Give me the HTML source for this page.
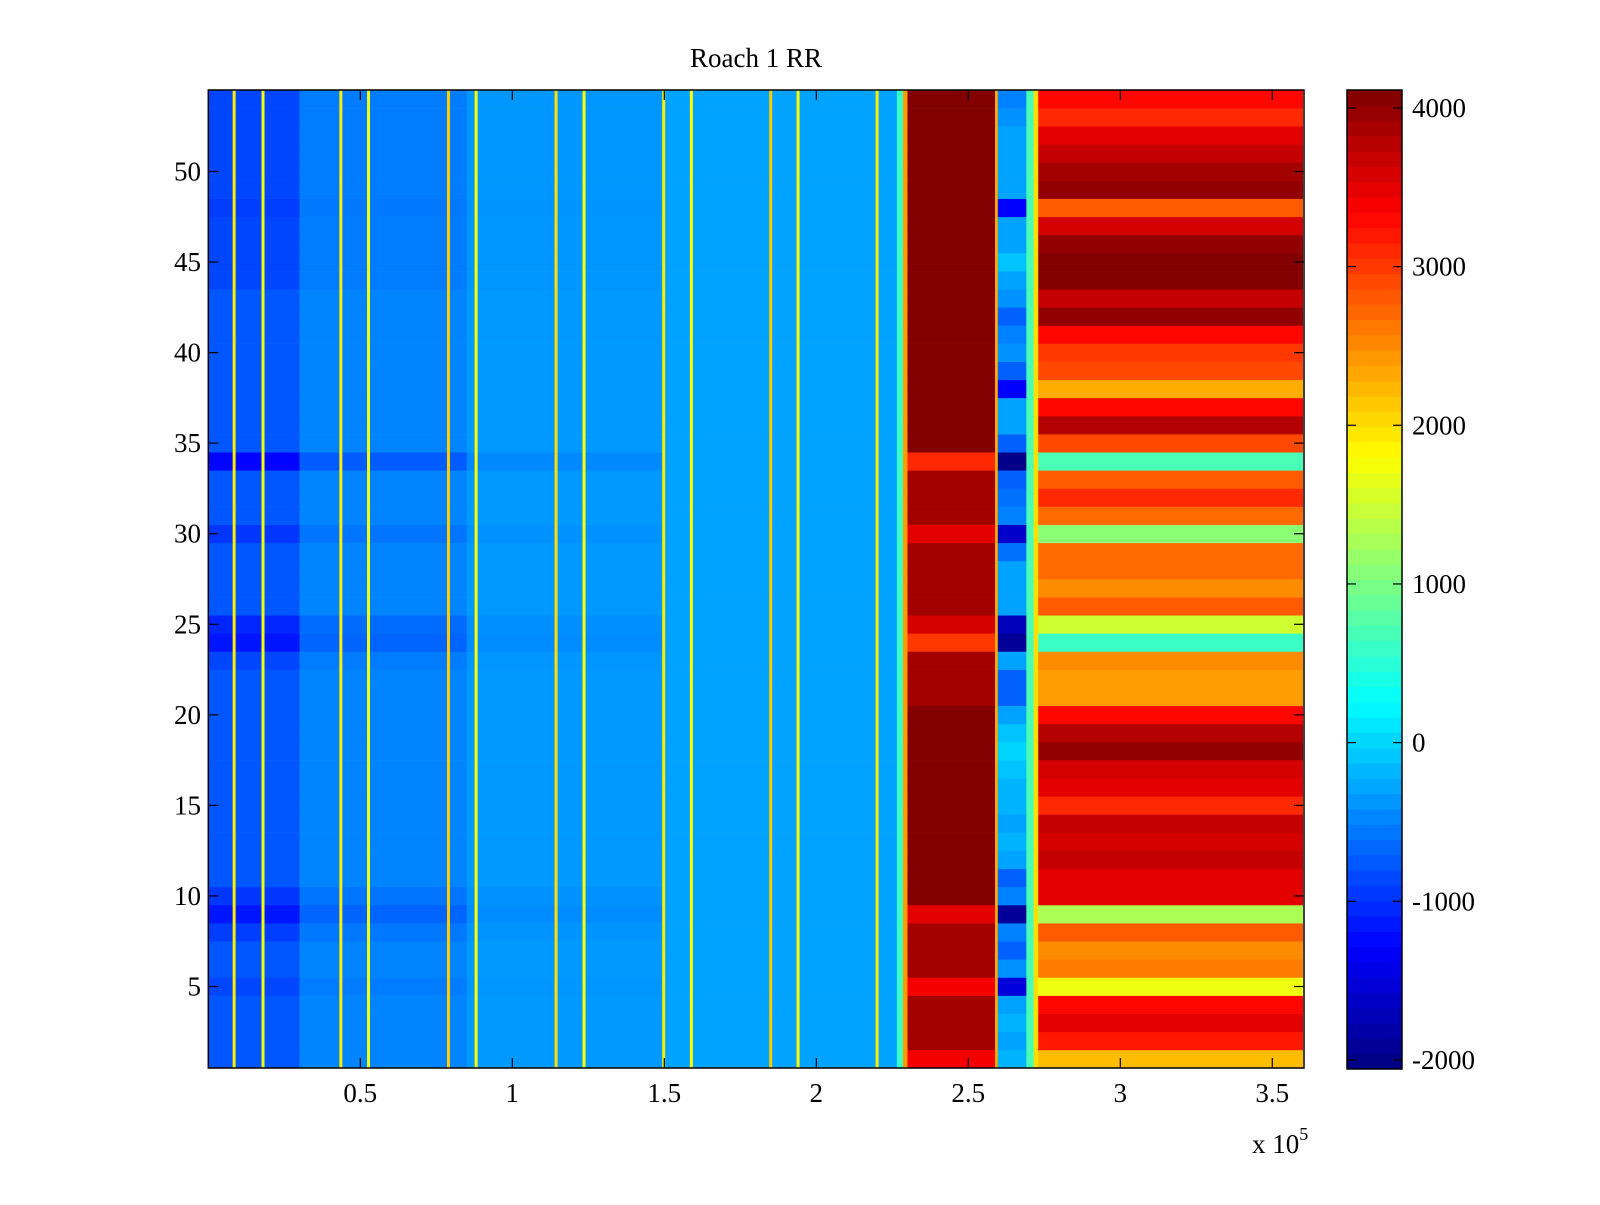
<!DOCTYPE html>
<html><head><meta charset="utf-8"><style>
html,body{margin:0;padding:0;background:#fff;}
svg text{font-family:"Liberation Serif",serif;fill:#000;}
</style></head><body>
<svg id="fig" width="1600" height="1200" viewBox="0 0 1600 1200" xmlns="http://www.w3.org/2000/svg">
<rect x="0" y="0" width="1600" height="1200" fill="#fff"/>
<text x="756" y="67" font-size="27" text-anchor="middle">Roach 1 RR</text>
<g id="cells"></g>
<rect x="208.3" y="90" width="1095.7" height="978" fill="none" stroke="#000" stroke-width="1.5"/>
<g id="axes"></g>
<g id="cbar"></g>
<text x="1252" y="1153" font-size="27">x 10<tspan font-size="18" dy="-13">5</tspan></text>
</svg>
<script>
// ---- data (x in units of 1e5) ----
const rowsCount = 54;
const leftEdges = [0, 0.3, 0.85, 1.5, 2.265];
const leftBase = [-760, -480, -360, -300];
const leftWeight = [1, 0.5, 0.2, 0];
// per-row offsets for left region, row 1..54
const leftRowOffset = [0,0,0,0,-100,0,0,-150,-400,-200, 0,0,0,0,0,0,0,0,0,0, 0,0,-100,-400,-300,0,0,0,0,-200, 0,0,0,-500,0,0,0,0,0,0, 0,0,0,-100,-100,-100,-100,-150,-100,-100, -100,-100,-100,-100];
const edgeCols = [[2.265, 2.285, 600],[2.285, 2.30, 2400],[2.587, 2.597, 2300],[2.69, 2.715, 700],[2.715, 2.73, 2000]];
const darkBandRange = [2.30, 2.587];
const darkBand = [3400,3900,3900,3900,3400,3900,3900,3900,3500,4100, 4100,4100,4100,4100,4100,4100,4100,4100,4100,4100, 3900,3900,3900,3000,3600,3900,3900,3900,3900,3500, 3900,3900,3900,3100,4100,4100,4100,4100,4100,4100, 4100,4100,4100,4100,4100,4100,4100,4100,4100,4100, 4100,4100,4100,4100];
const midBandRange = [2.597, 2.69];
const midBand = [-200,-300,-200,-300,-1500,-400,-700,-500,-1900,-500, -700,-300,-200,-300,-200,-200,-100,0,-100,-300, -700,-700,-300,-1900,-1700,-300,-300,-300,-600,-1600, -500,-600,-700,-2000,-700,-300,-300,-1300,-700,-400, -500,-700,-400,-300,-100,-300,-300,-1300,-300,-300, -300,-300,-400,-500];
const rightRange = [2.73, 3.6];
const rightBand = [2200,3200,3500,3300,1700,2600,2500,2800,1300,3500, 3500,3700,3600,3700,3100,3500,3600,4000,3800,3300, 2400,2400,2500,600,1500,2800,2500,2700,2700,1100, 2700,3100,2800,700,2900,3800,3300,2300,2900,3000, 3300,4000,3700,4100,4100,4000,3600,2800,4000,3900, 3700,3500,3100,3300];
const stripeX = [0.085,0.18,0.436,0.527,0.79,0.881,1.144,1.236,1.498,1.589,1.85,1.94,2.2];
const stripeValue = [1900,1700,1900,1700,2100,1800,2000,1800,1900,1800,2100,1800,1900];
const xTicks = [0.5,1,1.5,2,2.5,3,3.5];
const xTickLabels = ["0.5","1","1.5","2","2.5","3","3.5"];
const yTicks = [5,10,15,20,25,30,35,40,45,50];
const cTicks = [-2000,-1000,0,1000,2000,3000,4000];
const cTickLabels = ["-2000","-1000","0","1000","2000","3000","4000"];

// ---- scales ----
const X0 = 208.3, XS = 304, XMAX = 3.6;
const Y0 = 90, Y1 = 1068;
const cMin = -2057, cMax = 4113;
function xs(v){ return X0 + v*XS; }
function ys(v){ return Y0 + (54.5 - v)*(Y1-Y0)/54; }
function jet(v){
  let t = (v - cMin)/(cMax - cMin); t = Math.max(0, Math.min(1, t));
  const f = (a)=>Math.max(0, Math.min(1, 1.5 - Math.abs(4*t - a)));
  const r = f(3), g = f(2), b = f(1);
  return 'rgb(' + Math.round(r*255) + ',' + Math.round(g*255) + ',' + Math.round(b*255) + ')';
}
const NS = 'http://www.w3.org/2000/svg';
function mk(tag, attrs, parent){ const e = document.createElementNS(NS, tag); for (const k in attrs) e.setAttribute(k, attrs[k]); parent.appendChild(e); return e; }
const cells = document.getElementById('cells');
function cell(x0, x1, row, v, name){
  const r = mk('rect', {x: xs(x0), y: ys(row+0.5), width: Math.max(0.5, xs(x1)-xs(x0)+0.3), height: ys(row-0.5)-ys(row+0.5)+0.3, fill: jet(v)}, cells);
  
  
}
for (let i = 0; i < rowsCount; i++){
  const row = i + 1;
  for (let s = 0; s < leftBase.length; s++){
    cell(leftEdges[s], leftEdges[s+1], row, leftBase[s] + leftWeight[s]*leftRowOffset[i], 'left-cell');
  }
  for (const ec of edgeCols) cell(ec[0], ec[1], row, ec[2], 'edge-cell');
  cell(darkBandRange[0], darkBandRange[1], row, darkBand[i], 'dark-band-cell');
  cell(midBandRange[0], midBandRange[1], row, midBand[i], 'mid-band-cell');
  cell(rightRange[0], rightRange[1], row, rightBand[i], 'right-cell');
}
for (let k = 0; k < stripeX.length; k++){
  const r = mk('rect', {x: xs(stripeX[k]) - 1.5, y: Y0, width: 3, height: Y1 - Y0, fill: jet(stripeValue[k])}, cells);
  
  
}
// ---- axes ----
const axes = document.getElementById('axes');
for (let k = 0; k < xTicks.length; k++){
  const x = xs(xTicks[k]);
  const t1 = mk('line', {x1: x, x2: x, y1: Y1, y2: Y1-10, stroke: '#000', 'stroke-width': 1.2}, axes);
  
  
  const t2 = mk('line', {x1: x, x2: x, y1: Y0, y2: Y0+10, stroke: '#000', 'stroke-width': 1.2}, axes);
  
  
  const tx = mk('text', {x: x, y: 1102, 'font-size': 27, 'text-anchor': 'middle'}, axes);
  tx.textContent = xTickLabels[k];
  
  
}
for (let k = 0; k < yTicks.length; k++){
  const y = ys(yTicks[k]);
  const t1 = mk('line', {x1: X0, x2: X0+10, y1: y, y2: y, stroke: '#000', 'stroke-width': 1.2}, axes);
  
  
  const t2 = mk('line', {x1: 1304, x2: 1294, y1: y, y2: y, stroke: '#000', 'stroke-width': 1.2}, axes);
  
  
  const tx = mk('text', {x: 201, y: y + 9, 'font-size': 27, 'text-anchor': 'end'}, axes);
  tx.textContent = String(yTicks[k]);
  
  
}
// ---- colorbar ----
const cb = document.getElementById('cbar');
const CBX0 = 1347, CBX1 = 1402, CBY0 = 90, CBY1 = 1069;
const cby = (v)=> CBY1 - (v - cMin)/(cMax - cMin)*(CBY1 - CBY0);
const nSteps = 64;
for (let s = 0; s < nSteps; s++){
  const v0 = cMin + (cMax - cMin)*s/nSteps, v1 = cMin + (cMax - cMin)*(s+1)/nSteps;
  const r = mk('rect', {x: CBX0, y: cby(v1), width: CBX1-CBX0, height: cby(v0)-cby(v1)+0.5, fill: jet((v0+v1)/2)}, cb);
  
  
}
const fr = mk('rect', {x: CBX0, y: CBY0, width: CBX1-CBX0, height: CBY1-CBY0, fill: 'none', stroke: '#000', 'stroke-width': 1.5}, cb);


for (let k = 0; k < cTicks.length; k++){
  const y = cby(cTicks[k]);
  const a = mk('line', {x1: CBX0, x2: CBX0+9, y1: y, y2: y, stroke: '#000', 'stroke-width': 1.2}, cb);
  
  
  const b = mk('line', {x1: CBX1, x2: CBX1-9, y1: y, y2: y, stroke: '#000', 'stroke-width': 1.2}, cb);
  
  
  const tx = mk('text', {x: 1412, y: y + 9, 'font-size': 27}, cb);
  tx.textContent = cTickLabels[k];
  
  
}
</script>
</body></html>
